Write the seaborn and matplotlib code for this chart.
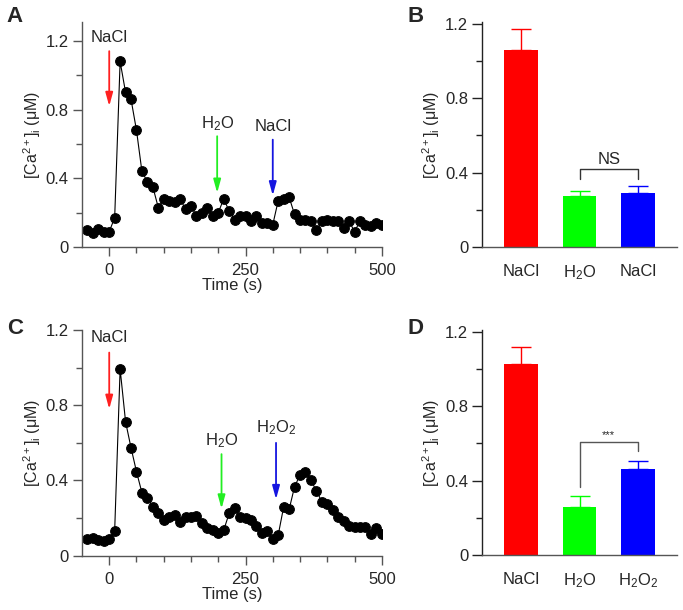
import seaborn as sns
import matplotlib.pyplot as plt
import matplotlib.ticker as mticker
import pandas as pd

# time points (s), same sampling for both traces
time_s = [-40, -30, -20, -10, 0, 10, 20, 30, 40, 50, 60, 70, 80, 90, 100,
          110, 120, 130, 140, 150, 160, 170, 180, 190, 200, 210, 220, 230,
          240, 250, 260, 270, 280, 290, 300, 310, 320, 330, 340, 350, 360,
          370, 380, 390, 400, 410, 420, 430, 440, 450, 460, 470, 480, 490, 500]

# trace A : NaCl -> H2O -> NaCl
ca_a = [0.10, 0.08, 0.105, 0.09, 0.09, 0.17, 1.08, 0.90, 0.86, 0.68, 0.44,
        0.38, 0.35, 0.23, 0.28, 0.27, 0.26, 0.28, 0.22, 0.24, 0.18, 0.20,
        0.23, 0.18, 0.20, 0.28, 0.21, 0.16, 0.18, 0.18, 0.15, 0.18, 0.14,
        0.14, 0.13, 0.27, 0.28, 0.29, 0.19, 0.16, 0.155, 0.15, 0.10, 0.15,
        0.155, 0.15, 0.15, 0.11, 0.15, 0.09, 0.15, 0.13, 0.12, 0.14, 0.13]

# trace C : NaCl -> H2O -> H2O2
ca_c = [0.087, 0.096, 0.083, 0.08, 0.087, 0.133, 0.993, 0.712, 0.574, 0.447,
        0.335, 0.308, 0.26, 0.229, 0.19, 0.207, 0.216, 0.18, 0.207, 0.207,
        0.21, 0.172, 0.145, 0.136, 0.122, 0.136, 0.225, 0.252, 0.207, 0.2,
        0.19, 0.158, 0.119, 0.133, 0.087, 0.11, 0.26, 0.246, 0.367, 0.429,
        0.447, 0.4, 0.346, 0.287, 0.275, 0.243, 0.207, 0.186, 0.158, 0.154,
        0.151, 0.154, 0.115, 0.149, 0.115]

# bar summaries
bar_colors = ["#ff0000", "#00ff00", "#0000ff"]
b_labels = ["NaCl", "H$_\\mathregular{2}$O", "NaCl"]
b_means = [1.06, 0.272, 0.288]
b_sem = [0.11, 0.027, 0.041]
d_labels = ["NaCl", "H$_\\mathregular{2}$O", "H$_\\mathregular{2}$O$_\\mathregular{2}$"]
d_means = [1.028, 0.256, 0.462]
d_sem = [0.09, 0.062, 0.043]

sns.set_style("ticks")
plt.rcParams['font.family'] = ['Liberation Sans', 'DejaVu Sans']
plt.rcParams['mathtext.fontset'] = 'custom'
plt.rcParams['mathtext.rm'] = 'Liberation Sans'
plt.rcParams['mathtext.it'] = 'Liberation Sans:italic'
FS = 12

ylab = "[Ca$^\\mathregular{2+}$]$_\\mathregular{i}$ (\u03bcM)"
axcol = "#555555"

fig = plt.figure(figsize=(6.83, 6.1), dpi=100)
axA = fig.add_axes([0.120, 0.595, 0.439, 0.369])
axB = fig.add_axes([0.706, 0.595, 0.285, 0.369])
axC = fig.add_axes([0.120, 0.089, 0.439, 0.370])
axD = fig.add_axes([0.706, 0.090, 0.285, 0.369])


def style_axis(ax):
    sns.despine(ax=ax)
    for s in ["left", "bottom"]:
        ax.spines[s].set_color(axcol)
        ax.spines[s].set_linewidth(1)
    ax.tick_params(which="major", length=6.5, width=1, color=axcol, labelsize=FS, pad=3)
    ax.tick_params(which="minor", length=4, width=1, color=axcol)
    ax.set_yticks([0, 0.4, 0.8, 1.2], ["0", "0.4", "0.8", "1.2"])
    ax.yaxis.set_minor_locator(mticker.FixedLocator([0.2, 0.6, 1.0]))
    ax.set_ylabel(ylab, fontsize=FS - 0.5, labelpad=2)


def trace(ax, y, ytop, arrows):
    df = pd.DataFrame({"t": time_s, "ca": y})
    sns.lineplot(data=df, x="t", y="ca", ax=ax, color="black", lw=0.8,
                 marker="o", markersize=7, markeredgecolor="black",
                 estimator=None)
    style_axis(ax)
    ax.set_xlim(-50, 500)
    ax.set_ylim(0, ytop)
    ax.set_xticks([0, 250, 500], ["0", "250", "500"])
    ax.xaxis.set_minor_locator(mticker.FixedLocator([50, 100, 150, 200, 300, 350, 400, 450]))
    ax.tick_params(axis="x", pad=5)
    ax.set_xlabel("Time (s)", fontsize=FS, labelpad=0)
    for x, y0, y1, ty, txt, c in arrows:
        ax.annotate("", xy=(x, y1), xytext=(x, y0),
                    arrowprops=dict(arrowstyle="-|>,head_width=0.22,head_length=0.8",
                                    color=c, lw=1.3, mutation_scale=10,
                                    shrinkA=0, shrinkB=0))
        ax.text(x, ty, txt, ha="center", va="center", fontsize=FS)


def bars(ax, labels, means, sem):
    pos = [0, 1, 2]
    sns.barplot(x=pos, y=means, hue=pos, palette=bar_colors, legend=False,
                width=0.58, linewidth=0, saturation=1, ax=ax)
    for i in pos:
        ax.errorbar(i, means[i], yerr=[[0], [sem[i]]], color=bar_colors[i],
                    capsize=7, lw=1, capthick=1)
    style_axis(ax)
    ax.spines["left"].set_color("#222222")
    ax.tick_params(axis="y", which="major", length=7, color="#222222")
    ax.tick_params(axis="y", which="minor", color="#222222")
    ax.set_xlim(-0.67, 2.67)
    ax.set_ylim(0, 1.21)
    ax.set_xticks(pos, labels)
    ax.tick_params(axis="x", length=0, pad=12)
    ax.set_xlabel("")


trace(axA, ca_a, 1.31, [(0, 1.14, 0.82, 1.22, "NaCl", "#ff2020"),
                        (198, 0.645, 0.315, 0.72, "H$_\\mathregular{2}$O", "#22ee22"),
                        (300, 0.625, 0.30, 0.70, "NaCl", "#1515e0")])
trace(axC, ca_c, 1.2, [(0, 1.08, 0.78, 1.16, "NaCl", "#ff2020"),
                       (206, 0.54, 0.25, 0.61, "H$_\\mathregular{2}$O", "#22ee22"),
                       (306, 0.60, 0.30, 0.68, "H$_\\mathregular{2}$O$_\\mathregular{2}$", "#1515e0")])

bars(axB, b_labels, b_means, b_sem)
bars(axD, d_labels, d_means, d_sem)

# significance brackets
axB.plot([1, 1, 2, 2], [0.365, 0.418, 0.418, 0.365], color="#333333", lw=1)
axB.text(1.5, 0.47, "NS", ha="center", va="center", fontsize=FS)
axD.plot([1, 1, 2, 2], [0.365, 0.61, 0.61, 0.56], color="#555555", lw=1)
axD.text(1.5, 0.645, "***", ha="center", va="center", fontsize=8)

for lab, x, y in [("A", 0.010, 0.99), ("B", 0.596, 0.99), ("C", 0.010, 0.478), ("D", 0.596, 0.478)]:
    fig.text(x, y, lab, fontsize=16, fontweight="bold", ha="left", va="top")

fig.savefig("out.png", dpi=100)
